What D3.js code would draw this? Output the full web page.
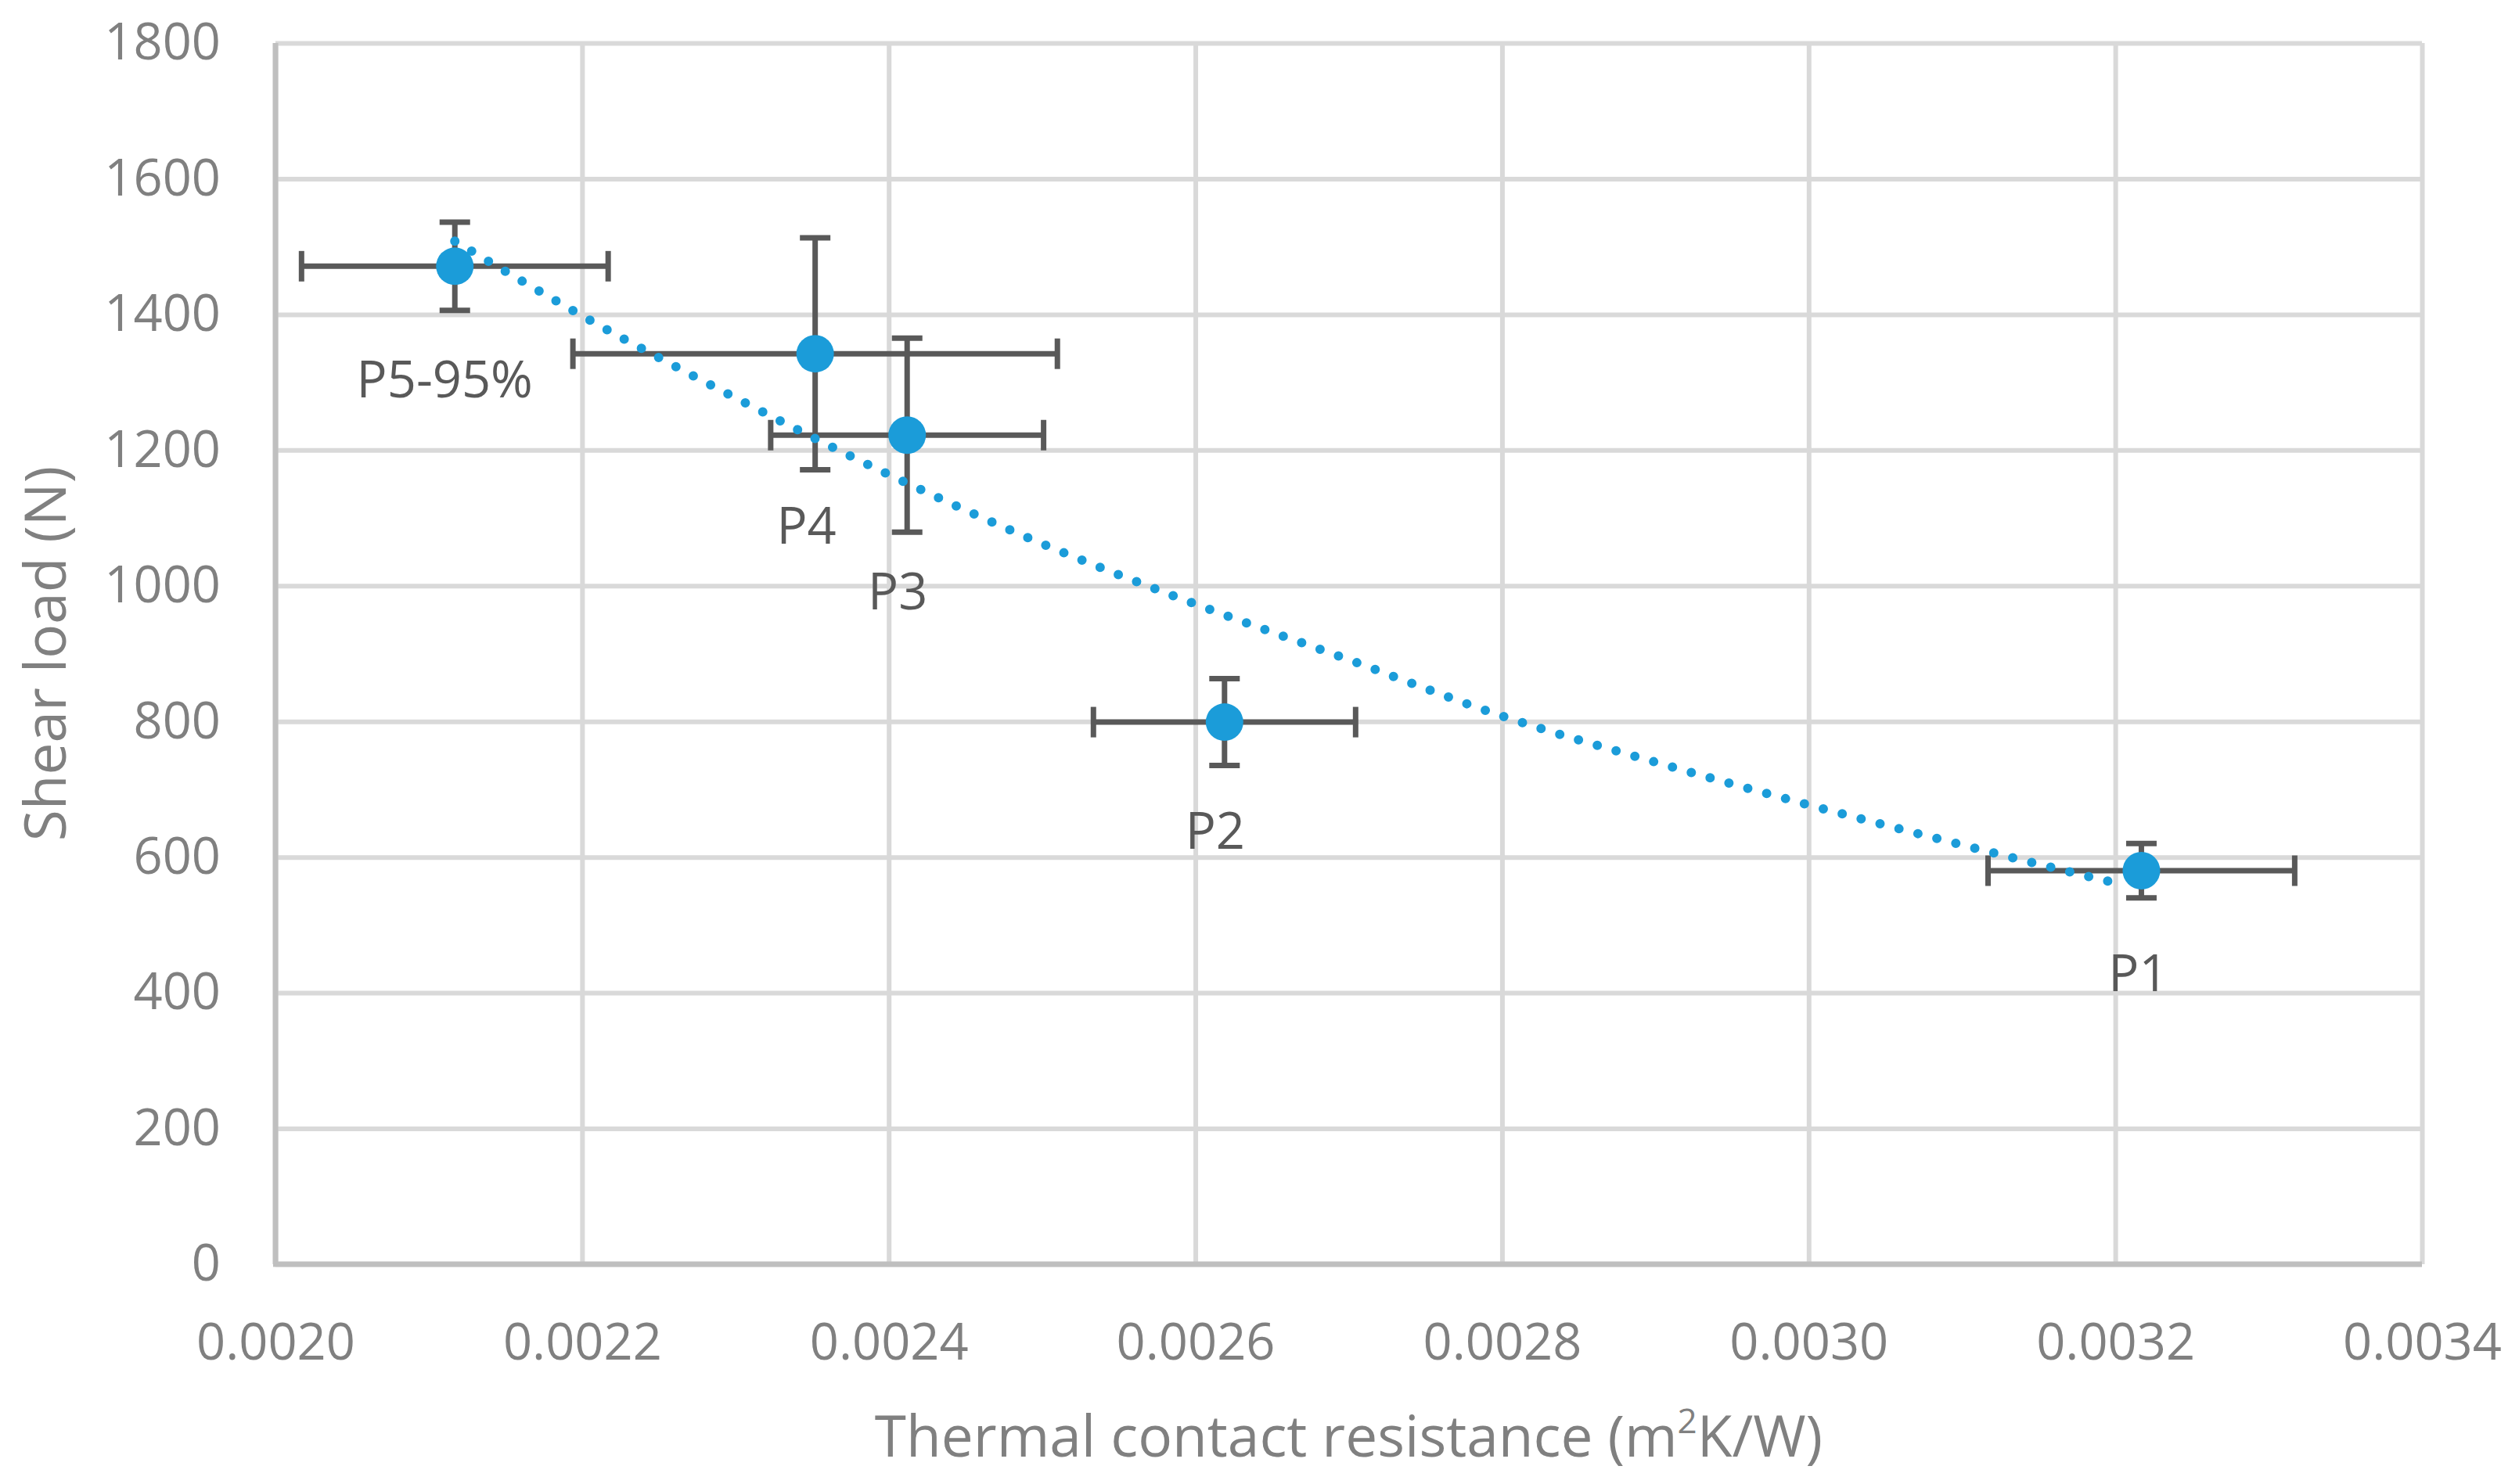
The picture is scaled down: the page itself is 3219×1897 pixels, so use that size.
<!DOCTYPE html>
<html lang="en">
<head>
<meta charset="UTF-8">
<title>Shear load vs thermal contact resistance</title>
<script src="https://cdn.jsdelivr.net/npm/d3@7"></script>
<style>
    body { margin: 0; background: #fff; }
    svg { display: block; font-family: "Open Sans", sans-serif; }
</style>
</head>
<body>
<svg id="chart" width="3219" height="1897"></svg>
<script>
// Data
const labels = ["P5-95%", "P4", "P3", "P2", "P1"];
const resistance = [0.002117, 0.002352, 0.002412, 0.002619, 0.003217];   // m2K/W
const shearLoad = [1471, 1342, 1222, 799, 580];                          // N
const resistanceErr = [0.0001, 0.000158, 0.000089, 0.0000855, 0.0001];
const shearErr = [65, 171, 143, 64, 40];

// Trendline
const trendX = [0.002117, 0.0022, 0.0023, 0.0024, 0.0025, 0.0026, 0.0027, 0.0028, 0.0029, 0.0030, 0.0031, 0.003207];
const trendY = [1508, 1398, 1277, 1164, 1062, 973, 891, 808, 740, 677, 618, 558];

const xTicks = [0.0020, 0.0022, 0.0024, 0.0026, 0.0028, 0.0030, 0.0032, 0.0034];
const yTicks = [0, 200, 400, 600, 800, 1000, 1200, 1400, 1600, 1800];

// Layout of the data labels (pixel offsets from each marker)
const labelOffsets = [[-13, 168], [-11, 243], [-12, 223], [-12, 162], [-4, 154]];

const font = "'Open Sans', sans-serif";
const svg = d3.select("#chart");
const margin = { left: 352, right: 124, top: 55, bottom: 281 };
const width = 3219 - margin.left - margin.right;
const height = 1897 - margin.top - margin.bottom;

const x = d3.scaleLinear().domain([0.0020, 0.0034]).range([0, width]);
const y = d3.scaleLinear().domain([0, 1800]).range([height, 0]);

const g = svg.append("g").attr("transform", `translate(${margin.left},${margin.top})`);

// Gridlines
g.append("g")
    .attr("class", "grid-x")
    .call(d3.axisBottom(x).tickValues(xTicks).tickSize(height).tickFormat(""))
    .call(s => s.select(".domain").remove())
    .selectAll("line").attr("stroke", "#d9d9d9").attr("stroke-width", 6);

g.append("g")
    .attr("class", "grid-y")
    .call(d3.axisLeft(y).tickValues(yTicks).tickSize(-width).tickFormat(""))
    .call(s => s.select(".domain").remove())
    .selectAll("line").attr("stroke", "#d9d9d9").attr("stroke-width", 6);

// Axis lines
g.append("line").attr("x1", 0).attr("x2", 0).attr("y1", 0).attr("y2", height)
    .attr("stroke", "#bfbfbf").attr("stroke-width", 7);
g.append("line").attr("x1", -3).attr("x2", width).attr("y1", height).attr("y2", height)
    .attr("stroke", "#bfbfbf").attr("stroke-width", 7);

// Tick labels
const xAxis = g.append("g")
    .attr("transform", `translate(0,${height})`)
    .call(d3.axisBottom(x).tickValues(xTicks).tickFormat(d3.format(".4f")).tickSize(0).tickPadding(76))
    .attr("font-family", font);
xAxis.select(".domain").remove();
xAxis.selectAll("text").attr("fill", "#808080").style("font-size", "65px");

const yAxis = g.append("g")
    .call(d3.axisLeft(y).tickValues(yTicks).tickFormat(d3.format("d")).tickSize(0).tickPadding(70))
    .attr("font-family", font);
yAxis.select(".domain").remove();
yAxis.selectAll("text").attr("fill", "#808080").style("font-size", "65px");

// Axis titles
const xTitle = svg.append("text")
    .attr("x", margin.left + width / 2)
    .attr("y", 1862)
    .attr("text-anchor", "middle")
    .attr("fill", "#808080")
    .style("font-size", "73px");
xTitle.append("tspan").text("Thermal contact resistance (m");
xTitle.append("tspan").attr("baseline-shift", "super").style("font-size", "44px").text("2");
xTitle.append("tspan").text("K/W)");

svg.append("text")
    .attr("transform", `translate(84,${margin.top + height / 2}) rotate(-90)`)
    .attr("text-anchor", "middle")
    .attr("fill", "#808080")
    .style("font-size", "73px")
    .text("Shear load (N)");

const points = labels.map((d, i) => ({
    label: d,
    x: resistance[i],
    y: shearLoad[i],
    ex: resistanceErr[i],
    ey: shearErr[i],
    off: labelOffsets[i]
}));

// Error bars
const cap = 19.5;
const bars = g.append("g").attr("stroke", "#595959").attr("stroke-width", 7);
points.forEach(p => {
    const cx = x(p.x), cy = y(p.y);
    const x0 = x(p.x - p.ex), x1 = x(p.x + p.ex);
    const y0 = y(p.y - p.ey), y1 = y(p.y + p.ey);
    bars.append("line").attr("x1", x0).attr("x2", x1).attr("y1", cy).attr("y2", cy);
    bars.append("line").attr("x1", x0).attr("x2", x0).attr("y1", cy - cap).attr("y2", cy + cap);
    bars.append("line").attr("x1", x1).attr("x2", x1).attr("y1", cy - cap).attr("y2", cy + cap);
    bars.append("line").attr("x1", cx).attr("x2", cx).attr("y1", y0).attr("y2", y1);
    bars.append("line").attr("x1", cx - cap).attr("x2", cx + cap).attr("y1", y0).attr("y2", y0);
    bars.append("line").attr("x1", cx - cap).attr("x2", cx + cap).attr("y1", y1).attr("y2", y1);
});

// Markers
g.append("g")
    .selectAll("circle")
    .data(points)
    .enter().append("circle")
    .attr("cx", d => x(d.x))
    .attr("cy", d => y(d.y))
    .attr("r", 24)
    .attr("fill", "#1b9cd9");

// Dotted trendline
const trend = trendX.map((d, i) => [d, trendY[i]]);
g.append("path")
    .datum(trend)
    .attr("fill", "none")
    .attr("stroke", "#1b9cd9")
    .attr("stroke-width", 12)
    .attr("stroke-linecap", "round")
    .attr("stroke-dasharray", "0 25")
    .attr("d", d3.line().x(d => x(d[0])).y(d => y(d[1])).curve(d3.curveMonotoneX));

// Data labels
g.append("g")
    .selectAll("text")
    .data(points)
    .enter().append("text")
    .attr("x", d => x(d.x) + d.off[0])
    .attr("y", d => y(d.y) + d.off[1])
    .attr("text-anchor", "middle")
    .attr("fill", "#595959")
    .style("font-size", "65px")
    .text(d => d.label);
</script>
</body>
</html>
